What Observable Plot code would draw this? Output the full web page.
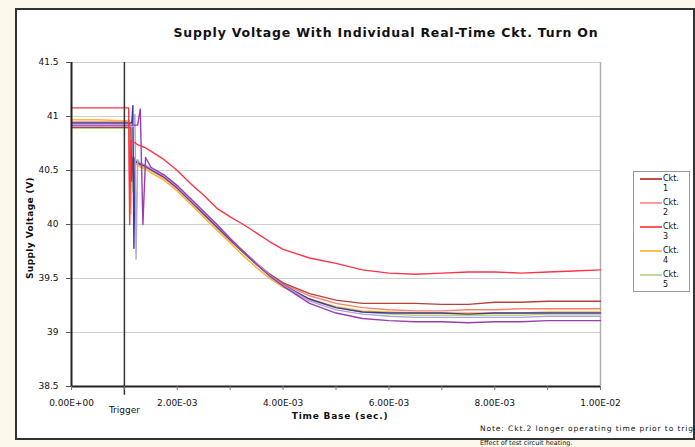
<!DOCTYPE html>
<html>
<head>
<meta charset="utf-8">
<script src="https://cdn.jsdelivr.net/npm/d3@7"></script>
<script src="https://cdn.jsdelivr.net/npm/@observablehq/plot@0.6"></script>
<style>
  html, body { margin: 0; padding: 0; background: #fbf9ec; }
  #wrap { position: relative; width: 695px; height: 447px; overflow: hidden; background: #fbf9ec; font-family: "DejaVu Sans", Verdana, sans-serif; }
  #frame { position: absolute; left: 15px; top: 8px; width: 676px; height: 428px; background: #fff; border: 2px solid #333; }
  #chart { position: absolute; left: 0; top: 0; }
  .t { position: absolute; white-space: nowrap; color: #111; }
  #title { left: 386px; top: 25px; transform: translateX(-50%); font-weight: bold; font-size: 12.5px; letter-spacing: 0.8px; }
  #ylabel { left: 30px; top: 228px; transform: translate(-50%, -50%) rotate(-90deg); font-weight: bold; font-size: 9px; letter-spacing: 0.4px; }
  #xlabel { left: 340px; top: 411px; transform: translateX(-50%); font-weight: bold; font-size: 9px; letter-spacing: 0.8px; }
  #legend { position: absolute; left: 633px; top: 171px; width: 57px; height: 121px; background: #fff; border: 1px solid #999; box-sizing: border-box; }
  .note { position: absolute; left: 480px; white-space: nowrap; color: #111; }
</style>
</head>
<body>
<div id="wrap">
  <div id="frame"></div>
  <div id="chart"></div>
  <div class="t" id="title"></div>
  <div class="t" id="ylabel"></div>
  <div class="t" id="xlabel"></div>
  <div id="legend"></div>
  <div class="note" id="note1" style="top:424px;font-size:7.5px;letter-spacing:0.9px;"></div>
  <div class="note" id="note2" style="top:439px;font-size:6.5px;letter-spacing:0px;"></div>
</div>
<script>
// ---- data (time in ms, voltage in V) ----
const timeMs = [0, 0.5, 1.0, 1.04, 1.06, 1.08, 1.10, 1.12, 1.14, 1.16, 1.18, 1.20, 1.22, 1.25, 1.30, 1.35, 1.40, 1.5, 1.75, 2.0, 2.25, 2.5, 2.75, 3.0, 3.25, 3.5, 3.75, 4.0, 4.5, 5.0, 5.5, 6.0, 6.5, 7.0, 7.5, 8.0, 8.5, 9.0, 9.5, 10.0];

const ckt1 = [40.90,40.90,40.90,40.90,40.90,40.90,40.90,40.90,40.40,40.62,40.60,40.59,40.58,40.57,40.56,40.55,40.54,40.51,40.44,40.34,40.22,40.10,39.98,39.86,39.75,39.64,39.54,39.46,39.36,39.30,39.27,39.27,39.27,39.26,39.26,39.28,39.28,39.29,39.29,39.29];
const ckt2 = [40.95,40.95,40.95,40.95,40.95,40.95,40.30,40.62,40.60,40.60,40.59,40.58,40.58,40.57,40.55,40.54,40.53,40.50,40.43,40.33,40.21,40.09,39.97,39.85,39.74,39.63,39.53,39.45,39.34,39.27,39.23,39.21,39.20,39.20,39.21,39.21,39.22,39.22,39.22,39.22];
const ckt3 = [41.08,41.08,41.08,41.08,41.08,41.08,40.00,40.78,40.77,40.77,40.76,40.76,40.75,40.74,40.73,40.72,40.71,40.68,40.60,40.50,40.38,40.27,40.15,40.07,40.00,39.92,39.84,39.77,39.69,39.64,39.58,39.55,39.54,39.55,39.56,39.56,39.55,39.56,39.57,39.58];
const ckt4 = [40.97,40.97,40.96,40.96,40.96,40.96,40.96,40.10,40.60,40.58,40.57,40.56,40.56,40.55,40.53,40.52,40.51,40.48,40.41,40.31,40.19,40.07,39.95,39.83,39.71,39.60,39.50,39.42,39.31,39.24,39.20,39.19,39.18,39.18,39.18,39.18,39.18,39.19,39.19,39.19];
const ckt5 = [40.89,40.89,40.89,40.89,40.89,40.89,40.89,40.89,40.89,40.30,40.58,40.57,40.56,40.55,40.54,40.53,40.52,40.48,40.41,40.31,40.19,40.07,39.95,39.83,39.71,39.60,39.50,39.42,39.30,39.23,39.19,39.17,39.16,39.16,39.16,39.16,39.16,39.17,39.17,39.17];
const ckt6 = [40.94,40.94,40.94,40.94,40.94,40.94,40.94,40.94,40.94,41.10,39.78,40.62,40.58,40.57,40.56,40.55,40.54,40.51,40.44,40.34,40.22,40.10,39.98,39.86,39.74,39.63,39.53,39.44,39.31,39.23,39.19,39.18,39.18,39.18,39.17,39.18,39.18,39.18,39.18,39.18];
const ckt7 = [40.92,40.92,40.92,40.92,40.92,40.92,40.92,40.92,40.92,40.92,40.92,40.92,40.92,40.92,41.07,40.00,40.62,40.53,40.46,40.36,40.24,40.12,40.00,39.87,39.75,39.63,39.52,39.43,39.27,39.18,39.13,39.11,39.10,39.10,39.09,39.10,39.10,39.11,39.11,39.11];
const ckt8 = [40.91,40.91,40.91,40.91,40.91,40.91,40.91,40.91,40.91,40.91,40.91,41.02,39.68,40.60,40.57,40.56,40.55,40.52,40.45,40.35,40.23,40.11,39.99,39.87,39.75,39.64,39.53,39.44,39.29,39.21,39.17,39.15,39.14,39.14,39.14,39.14,39.14,39.15,39.15,39.15];

const seriesNames  = ["Ckt. 5", "Ckt. 4", "Ckt. 2", "Ckt. 1", "Ckt. 6", "Ckt. 8", "Ckt. 7", "Ckt. 3"];
const seriesValues = [ckt5, ckt4, ckt2, ckt1, ckt6, ckt8, ckt7, ckt3];
const seriesColors = ["#b9d47e", "#ffb935", "#ff7f6e", "#b8403c", "#3b3b9c", "#b0a2dc", "#9a3db0", "#ff3346"];

const legendNames  = ["Ckt. 1", "Ckt. 2", "Ckt. 3", "Ckt. 4", "Ckt. 5"];
const legendColors = ["#c0504d", "#ff9e9e", "#ff5555", "#ffc04d", "#c3d69b"];

const yTicks = [38.5, 39, 39.5, 40, 40.5, 41, 41.5];
const yTickLabels = ["38.5", "39", "39.5", "40", "40.5", "41", "41.5"];
const xTicks = [0, 0.001, 0.002, 0.003, 0.004, 0.005, 0.006, 0.007, 0.008, 0.009, 0.010];
const xTickLabels = ["0.00E+00", "", "2.00E-03", "", "4.00E-03", "", "6.00E-03", "", "8.00E-03", "", "1.00E-02"];
const triggerTime = [0.001];
const triggerLabel = ["Trigger"];

const titleText = "Supply Voltage With Individual Real-Time Ckt. Turn On";
const xLabelText = "Time Base (sec.)";
const yLabelText = "Supply Voltage (V)";
const noteLines = ["Note: Ckt.2 longer operating time prior to trigger.", "Effect of test circuit heating."];

// ---- build table ----
const rows = [];
seriesNames.forEach((name, s) => {
  timeMs.forEach((t, i) => rows.push({series: name, t: t / 1000, v: seriesValues[s][i]}));
});

const chart = Plot.plot({
  width: 695,
  height: 447,
  marginLeft: 71,
  marginRight: 95,
  marginTop: 62,
  marginBottom: 61,
  style: {background: "transparent", fontFamily: "DejaVu Sans, Verdana, sans-serif", fontSize: "9px", color: "#111"},
  x: {domain: [0, 0.01]},
  y: {domain: [38.5, 41.5]},
  color: {domain: seriesNames, range: seriesColors},
  marks: [
    Plot.ruleY(yTicks.slice(1), {stroke: "#cfcfcf", strokeWidth: 1}),
    Plot.ruleX([xTicks[xTicks.length - 1]], {stroke: "#b0b0b0", strokeWidth: 1.5}),
    Plot.line(rows, {x: "t", y: "v", z: "series", stroke: "series", strokeWidth: 1.4, curve: "linear"}),
    Plot.ruleX(triggerTime, {y1: 41.5, y2: 38.42, stroke: "#333", strokeWidth: 1.5, clip: false}),
    Plot.ruleX([0], {stroke: "#222", strokeWidth: 2}),
    Plot.ruleY([38.5], {stroke: "#222", strokeWidth: 2}),
    Plot.axisY({ticks: yTicks, tickSize: 5, tickPadding: 8, tickFormat: d => yTickLabels[yTicks.indexOf(d)], label: null, fontSize: 9, stroke: "#555"}),
    Plot.axisX({ticks: xTicks, tickSize: 4, tickPadding: 9, tickFormat: d => xTickLabels[xTicks.indexOf(d)], label: null, fontSize: 9, stroke: "#777"}),
    Plot.text(triggerTime, {x: d => d, y: () => 38.5, dy: 24, text: (d, i) => triggerLabel[i], fontSize: 9, fill: "#111", clip: false})
  ]
});
document.getElementById("chart").appendChild(chart);

document.getElementById("title").textContent = titleText;
document.getElementById("xlabel").textContent = xLabelText;
document.getElementById("ylabel").textContent = yLabelText;
document.getElementById("note1").textContent = noteLines[0];
document.getElementById("note2").textContent = noteLines[1];

// legend
const lg = document.getElementById("legend");
legendNames.forEach((name, i) => {
  const [word, num] = name.split(" ");
  const top = 2 + i * 24;
  const sw = document.createElement("div");
  sw.style.cssText = `position:absolute;left:6px;top:${top + 4}px;width:22px;height:2px;background:${legendColors[i]};`;
  lg.appendChild(sw);
  const tx = document.createElement("div");
  tx.style.cssText = `position:absolute;left:29px;top:${top}px;font-size:8px;line-height:10px;color:#111;`;
  tx.innerHTML = word + "<br>" + num;
  lg.appendChild(tx);
});
</script>
</body>
</html>
